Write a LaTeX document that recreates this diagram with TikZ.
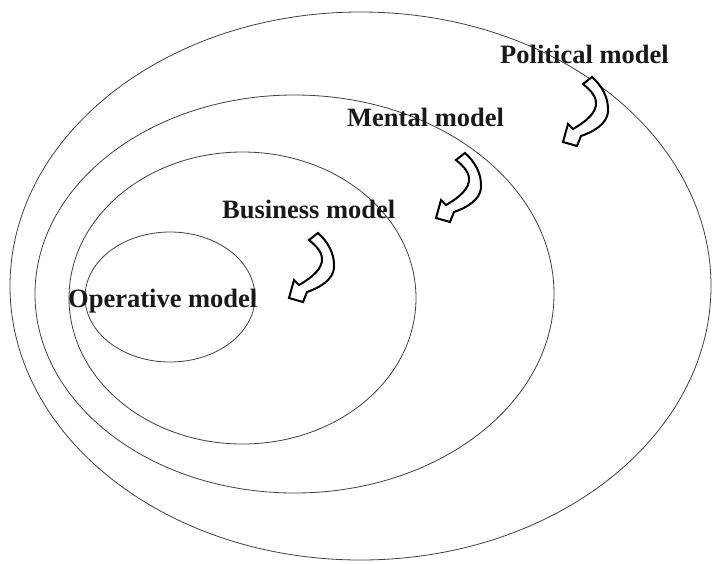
\documentclass[tikz,border=0pt]{standalone}
\usepackage{fontspec}
\setmainfont{Liberation Serif}
\usetikzlibrary{shapes.geometric}
\begin{document}
\begin{tikzpicture}[x=1pt,y=-1pt,
  ring/.style={ellipse,draw=black!75,line width=0.8pt,inner sep=0pt},
  label/.style={font=\fontsize{26.5}{30}\selectfont\bfseries,anchor=base west,inner sep=0pt,text=black!90},
  bentarrow/.style={draw=black,fill=white,line width=2pt,line join=miter}]
  \useasboundingbox (0,0) rectangle (712,563);
  \fill[white] (0,0) rectangle (712,563);

  % nested model ellipses
  \node[ring,minimum width=701pt,minimum height=548pt] (political) at (360.5,286) {};
  \node[ring,minimum width=519pt,minimum height=398pt] (mental)    at (294.5,294) {};
  \node[ring,minimum width=347pt,minimum height=292pt] (business)  at (242.5,298) {};
  \node[ring,minimum width=170pt,minimum height=130pt] (operative) at (170,297) {};

  % labels
  \node[label] (tpol) at (500,63)  {Political model};
  \node[label] (tmen) at (347,126) {Mental model};
  \node[label] (tbus) at (222,218) {Business model};
  \node[label] (tope) at (68,307)  {Operative model};

  % curved block arrows, each placed by its tip
  \foreach \tx/\ty in {563/142, 436/218, 289/298}{
    \draw[bentarrow,shift={(\tx,\ty)}]
      (0,0) -- (5,-18) -- (10,-13)
      .. controls (24,-21) and (34,-30) .. (33,-40)
      .. controls (32,-48) and (26,-53) .. (20,-58)
      -- (29,-65)
      .. controls (38,-57) and (46,-45) .. (45,-30)
      .. controls (44,-18) and (30,-10) .. (18,-6)
      -- (14,4) -- cycle;
  }
\end{tikzpicture}
\end{document}
